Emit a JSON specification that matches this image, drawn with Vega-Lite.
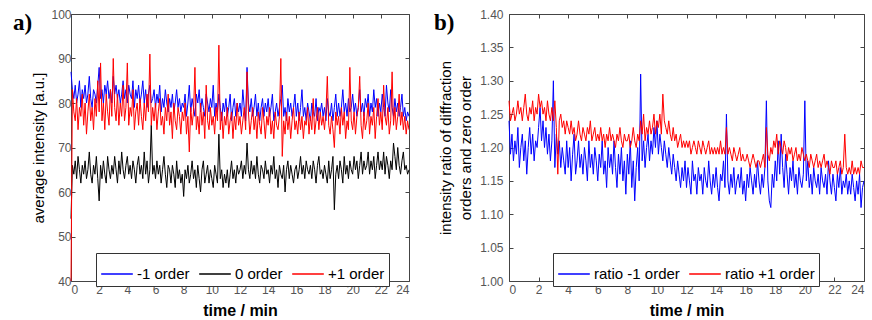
{
"$schema": "https://vega.github.io/schema/vega-lite/v6.json",
"background": "white",
"padding": {"left": 12, "top": 7, "right": 5, "bottom": 2},
"spacing": 100,
"bounds": "flush",
"config": {
  "font": "Liberation Sans",
  "view": {"stroke": "#444", "strokeWidth": 1},
  "axis": {"grid": false, "domain": false, "tickColor": "#444", "tickSize": -4, "labelColor": "#555", "labelFontSize": 12, "labelFont": "Liberation Sans", "titleFont": "Liberation Sans", "titleColor": "#000", "titleFontWeight": "normal", "titleFontSize": 15},
  "legend": {"orient": "none", "direction": "horizontal", "title": null, "strokeColor": "#333", "fillColor": "white", "padding": 4, "labelFontSize": 15, "labelColor": "#000", "labelFont": "Liberation Sans", "symbolType": "stroke", "symbolSize": 1000, "symbolStrokeWidth": 1.5, "columnPadding": 6, "labelOffset": 3, "cornerRadius": 0}
},
"datasets": {
"L": [
{"t":0,"m":87,"z":54,"p":40},{"t":0.1,"m":83,"z":66,"p":83},{"t":0.2,"m":81,"z":64,"p":78},{"t":0.3,"m":84,"z":67,"p":76},{"t":0.4,"m":80,"z":63,"p":81},{"t":0.5,"m":82,"z":68,"p":74},{"t":0.6,"m":85,"z":65,"p":79},{"t":0.7,"m":79,"z":62,"p":77},{"t":0.8,"m":83,"z":66,"p":82},{"t":0.9,"m":81,"z":64,"p":75},
{"t":1,"m":84,"z":67,"p":80},{"t":1.1,"m":80,"z":63,"p":73},{"t":1.2,"m":82,"z":65,"p":78},{"t":1.3,"m":86,"z":69,"p":82},{"t":1.4,"m":81,"z":64,"p":76},{"t":1.5,"m":79,"z":62,"p":79},{"t":1.6,"m":83,"z":66,"p":74},{"t":1.7,"m":82,"z":64,"p":81},{"t":1.8,"m":80,"z":68,"p":77},{"t":1.9,"m":84,"z":63,"p":85},
{"t":2,"m":88,"z":58,"p":78},{"t":2.1,"m":81,"z":66,"p":89},{"t":2.2,"m":83,"z":63,"p":76},{"t":2.3,"m":80,"z":67,"p":80},{"t":2.4,"m":84,"z":64,"p":74},{"t":2.5,"m":82,"z":62,"p":82},{"t":2.6,"m":85,"z":68,"p":78},{"t":2.7,"m":81,"z":65,"p":75},{"t":2.8,"m":83,"z":63,"p":83},{"t":2.9,"m":80,"z":66,"p":77},
{"t":3,"m":86,"z":64,"p":90},{"t":3.1,"m":82,"z":68,"p":79},{"t":3.2,"m":84,"z":65,"p":76},{"t":3.3,"m":81,"z":62,"p":82},{"t":3.4,"m":83,"z":67,"p":75},{"t":3.5,"m":80,"z":64,"p":80},{"t":3.6,"m":82,"z":69,"p":77},{"t":3.7,"m":85,"z":65,"p":84},{"t":3.8,"m":81,"z":63,"p":76},{"t":3.9,"m":83,"z":66,"p":79},
{"t":4,"m":80,"z":68,"p":89},{"t":4.1,"m":84,"z":64,"p":75},{"t":4.2,"m":82,"z":66,"p":79},{"t":4.3,"m":81,"z":63,"p":77},{"t":4.4,"m":85,"z":67,"p":83},{"t":4.5,"m":79,"z":65,"p":74},{"t":4.6,"m":83,"z":62,"p":78},{"t":4.7,"m":81,"z":66,"p":80},{"t":4.8,"m":84,"z":68,"p":75},{"t":4.9,"m":80,"z":64,"p":81},
{"t":5,"m":82,"z":66,"p":77},{"t":5.1,"m":85,"z":63,"p":74},{"t":5.2,"m":80,"z":69,"p":80},{"t":5.3,"m":83,"z":64,"p":76},{"t":5.4,"m":79,"z":67,"p":82},{"t":5.5,"m":82,"z":62,"p":78},{"t":5.6,"m":84,"z":65,"p":91},{"t":5.7,"m":80,"z":75,"p":75},{"t":5.8,"m":81,"z":64,"p":79},{"t":5.9,"m":83,"z":66,"p":76},
{"t":6,"m":79,"z":63,"p":80},{"t":6.1,"m":82,"z":67,"p":74},{"t":6.2,"m":80,"z":64,"p":78},{"t":6.3,"m":84,"z":66,"p":81},{"t":6.4,"m":78,"z":62,"p":75},{"t":6.5,"m":81,"z":65,"p":77},{"t":6.6,"m":79,"z":68,"p":73},{"t":6.7,"m":83,"z":64,"p":79},{"t":6.8,"m":80,"z":61,"p":76},{"t":6.9,"m":78,"z":66,"p":82},
{"t":7,"m":81,"z":65,"p":75},{"t":7.1,"m":79,"z":62,"p":78},{"t":7.2,"m":82,"z":66,"p":72},{"t":7.3,"m":78,"z":64,"p":80},{"t":7.4,"m":80,"z":61,"p":76},{"t":7.5,"m":83,"z":67,"p":74},{"t":7.6,"m":79,"z":63,"p":79},{"t":7.7,"m":81,"z":65,"p":77},{"t":7.8,"m":78,"z":62,"p":73},{"t":7.9,"m":80,"z":64,"p":78},
{"t":8,"m":79,"z":59,"p":76},{"t":8.1,"m":82,"z":65,"p":80},{"t":8.2,"m":77,"z":63,"p":73},{"t":8.3,"m":80,"z":66,"p":77},{"t":8.4,"m":84,"z":62,"p":69},{"t":8.5,"m":78,"z":64,"p":79},{"t":8.6,"m":81,"z":67,"p":75},{"t":8.7,"m":79,"z":63,"p":78},{"t":8.8,"m":77,"z":65,"p":88},{"t":8.9,"m":82,"z":61,"p":74},
{"t":9,"m":80,"z":66,"p":77},{"t":9.1,"m":83,"z":63,"p":73},{"t":9.2,"m":78,"z":60,"p":80},{"t":9.3,"m":81,"z":65,"p":75},{"t":9.4,"m":79,"z":67,"p":78},{"t":9.5,"m":77,"z":62,"p":72},{"t":9.6,"m":82,"z":64,"p":84},{"t":9.7,"m":80,"z":66,"p":76},{"t":9.8,"m":78,"z":62,"p":74},{"t":9.9,"m":81,"z":65,"p":79},
{"t":10,"m":79,"z":63,"p":75},{"t":10.1,"m":84,"z":61,"p":77},{"t":10.2,"m":77,"z":66,"p":73},{"t":10.3,"m":80,"z":64,"p":79},{"t":10.4,"m":78,"z":62,"p":76},{"t":10.5,"m":82,"z":73,"p":93},{"t":10.6,"m":79,"z":63,"p":74},{"t":10.7,"m":76,"z":65,"p":78},{"t":10.8,"m":80,"z":61,"p":72},{"t":10.9,"m":78,"z":64,"p":77},
{"t":11,"m":81,"z":62,"p":75},{"t":11.1,"m":77,"z":65,"p":79},{"t":11.2,"m":79,"z":61,"p":73},{"t":11.3,"m":82,"z":64,"p":76},{"t":11.4,"m":76,"z":67,"p":78},{"t":11.5,"m":79,"z":63,"p":72},{"t":11.6,"m":81,"z":65,"p":77},{"t":11.7,"m":77,"z":62,"p":74},{"t":11.8,"m":80,"z":66,"p":80},{"t":11.9,"m":78,"z":64,"p":75},
{"t":12,"m":80,"z":65,"p":77},{"t":12.1,"m":77,"z":67,"p":73},{"t":12.2,"m":83,"z":63,"p":76},{"t":12.3,"m":79,"z":66,"p":79},{"t":12.4,"m":76,"z":64,"p":74},{"t":12.5,"m":88,"z":71,"p":87},{"t":12.6,"m":80,"z":65,"p":78},{"t":12.7,"m":78,"z":63,"p":73},{"t":12.8,"m":81,"z":67,"p":76},{"t":12.9,"m":77,"z":64,"p":79},
{"t":13,"m":79,"z":66,"p":74},{"t":13.1,"m":82,"z":63,"p":77},{"t":13.2,"m":77,"z":68,"p":72},{"t":13.3,"m":80,"z":64,"p":78},{"t":13.4,"m":76,"z":62,"p":75},{"t":13.5,"m":79,"z":66,"p":73},{"t":13.6,"m":81,"z":65,"p":79},{"t":13.7,"m":77,"z":63,"p":76},{"t":13.8,"m":80,"z":67,"p":72},{"t":13.9,"m":78,"z":64,"p":77},
{"t":14,"m":81,"z":65,"p":75},{"t":14.1,"m":77,"z":62,"p":79},{"t":14.2,"m":79,"z":66,"p":73},{"t":14.3,"m":82,"z":64,"p":76},{"t":14.4,"m":76,"z":68,"p":72},{"t":14.5,"m":78,"z":63,"p":78},{"t":14.6,"m":80,"z":65,"p":75},{"t":14.7,"m":77,"z":61,"p":74},{"t":14.8,"m":79,"z":66,"p":77},{"t":14.9,"m":81,"z":64,"p":90},
{"t":15,"m":84,"z":63,"p":68},{"t":15.1,"m":77,"z":66,"p":76},{"t":15.2,"m":79,"z":60,"p":73},{"t":15.3,"m":76,"z":65,"p":78},{"t":15.4,"m":81,"z":67,"p":74},{"t":15.5,"m":78,"z":63,"p":77},{"t":15.6,"m":80,"z":66,"p":72},{"t":15.7,"m":77,"z":64,"p":76},{"t":15.8,"m":79,"z":62,"p":79},{"t":15.9,"m":82,"z":65,"p":74},
{"t":16,"m":77,"z":66,"p":76},{"t":16.1,"m":80,"z":63,"p":73},{"t":16.2,"m":76,"z":65,"p":78},{"t":16.3,"m":79,"z":68,"p":74},{"t":16.4,"m":83,"z":64,"p":77},{"t":16.5,"m":77,"z":66,"p":72},{"t":16.6,"m":79,"z":63,"p":76},{"t":16.7,"m":76,"z":67,"p":75},{"t":16.8,"m":80,"z":65,"p":79},{"t":16.9,"m":78,"z":64,"p":73},
{"t":17,"m":76,"z":66,"p":77},{"t":17.1,"m":80,"z":63,"p":74},{"t":17.2,"m":78,"z":67,"p":81},{"t":17.3,"m":77,"z":65,"p":73},{"t":17.4,"m":81,"z":62,"p":76},{"t":17.5,"m":76,"z":66,"p":79},{"t":17.6,"m":79,"z":68,"p":74},{"t":17.7,"m":78,"z":64,"p":78},{"t":17.8,"m":80,"z":65,"p":75},{"t":17.9,"m":77,"z":63,"p":77},
{"t":18,"m":79,"z":66,"p":74},{"t":18.1,"m":76,"z":64,"p":78},{"t":18.2,"m":81,"z":62,"p":86},{"t":18.3,"m":78,"z":67,"p":75},{"t":18.4,"m":77,"z":63,"p":73},{"t":18.5,"m":80,"z":65,"p":77},{"t":18.6,"m":76,"z":68,"p":74},{"t":18.7,"m":79,"z":56,"p":70},{"t":18.8,"m":82,"z":64,"p":78},{"t":18.9,"m":77,"z":66,"p":75},
{"t":19,"m":80,"z":63,"p":77},{"t":19.1,"m":77,"z":67,"p":73},{"t":19.2,"m":79,"z":65,"p":79},{"t":19.3,"m":83,"z":62,"p":75},{"t":19.4,"m":78,"z":68,"p":78},{"t":19.5,"m":80,"z":64,"p":72},{"t":19.6,"m":77,"z":66,"p":76},{"t":19.7,"m":81,"z":63,"p":74},{"t":19.8,"m":78,"z":67,"p":88},{"t":19.9,"m":79,"z":65,"p":76},
{"t":20,"m":82,"z":64,"p":74},{"t":20.1,"m":78,"z":68,"p":78},{"t":20.2,"m":80,"z":65,"p":73},{"t":20.3,"m":77,"z":67,"p":77},{"t":20.4,"m":79,"z":63,"p":79},{"t":20.5,"m":83,"z":66,"p":86},{"t":20.6,"m":78,"z":69,"p":75},{"t":20.7,"m":80,"z":64,"p":72},{"t":20.8,"m":77,"z":67,"p":78},{"t":20.9,"m":81,"z":65,"p":74},
{"t":21,"m":79,"z":66,"p":76},{"t":21.1,"m":82,"z":69,"p":80},{"t":21.2,"m":77,"z":64,"p":73},{"t":21.3,"m":80,"z":67,"p":77},{"t":21.4,"m":78,"z":65,"p":75},{"t":21.5,"m":83,"z":68,"p":79},{"t":21.6,"m":79,"z":63,"p":72},{"t":21.7,"m":81,"z":66,"p":77},{"t":21.8,"m":77,"z":69,"p":81},{"t":21.9,"m":80,"z":65,"p":75},
{"t":22,"m":78,"z":67,"p":78},{"t":22.1,"m":82,"z":65,"p":74},{"t":22.2,"m":79,"z":69,"p":84},{"t":22.3,"m":77,"z":64,"p":77},{"t":22.4,"m":84,"z":68,"p":75},{"t":22.5,"m":80,"z":66,"p":79},{"t":22.6,"m":78,"z":63,"p":73},{"t":22.7,"m":83,"z":67,"p":76},{"t":22.8,"m":79,"z":65,"p":87},{"t":22.9,"m":77,"z":71,"p":75},
{"t":23,"m":81,"z":68,"p":79},{"t":23.1,"m":78,"z":65,"p":74},{"t":23.2,"m":80,"z":70,"p":77},{"t":23.3,"m":77,"z":66,"p":82},{"t":23.4,"m":79,"z":64,"p":75},{"t":23.5,"m":82,"z":67,"p":78},{"t":23.6,"m":77,"z":69,"p":74},{"t":23.7,"m":79,"z":65,"p":77},{"t":23.8,"m":76,"z":66,"p":73},{"t":23.9,"m":78,"z":64,"p":76},
{"t":24,"m":77,"z":65,"p":74}
],
"R": [
{"t":0,"m":1.24,"p":1.27},{"t":0.1,"m":1.19,"p":1.24},{"t":0.2,"m":1.22,"p":1.25},{"t":0.3,"m":1.18,"p":1.26},{"t":0.4,"m":1.21,"p":1.24},{"t":0.5,"m":1.19,"p":1.25},{"t":0.6,"m":1.23,"p":1.27},{"t":0.7,"m":1.17,"p":1.25},{"t":0.8,"m":1.20,"p":1.26},{"t":0.9,"m":1.22,"p":1.24},
{"t":1,"m":1.18,"p":1.26},{"t":1.1,"m":1.21,"p":1.28},{"t":1.2,"m":1.16,"p":1.25},{"t":1.3,"m":1.20,"p":1.24},{"t":1.4,"m":1.23,"p":1.26},{"t":1.5,"m":1.19,"p":1.25},{"t":1.6,"m":1.22,"p":1.27},{"t":1.7,"m":1.18,"p":1.24},{"t":1.8,"m":1.21,"p":1.26},{"t":1.9,"m":1.20,"p":1.25},
{"t":2,"m":1.23,"p":1.28},{"t":2.1,"m":1.26,"p":1.26},{"t":2.2,"m":1.21,"p":1.27},{"t":2.3,"m":1.24,"p":1.25},{"t":2.4,"m":1.20,"p":1.26},{"t":2.5,"m":1.23,"p":1.24},{"t":2.6,"m":1.19,"p":1.27},{"t":2.7,"m":1.22,"p":1.25},{"t":2.8,"m":1.18,"p":1.24},{"t":2.9,"m":1.21,"p":1.26},
{"t":3,"m":1.30,"p":1.24},{"t":3.1,"m":1.17,"p":1.27},{"t":3.2,"m":1.22,"p":1.23},{"t":3.3,"m":1.19,"p":1.16},{"t":3.4,"m":1.21,"p":1.24},{"t":3.5,"m":1.17,"p":1.25},{"t":3.6,"m":1.20,"p":1.23},{"t":3.7,"m":1.18,"p":1.24},{"t":3.8,"m":1.16,"p":1.22},{"t":3.9,"m":1.21,"p":1.24},
{"t":4,"m":1.17,"p":1.23},{"t":4.1,"m":1.20,"p":1.22},{"t":4.2,"m":1.15,"p":1.24},{"t":4.3,"m":1.19,"p":1.22},{"t":4.4,"m":1.22,"p":1.23},{"t":4.5,"m":1.16,"p":1.21},{"t":4.6,"m":1.18,"p":1.22},{"t":4.7,"m":1.21,"p":1.24},{"t":4.8,"m":1.17,"p":1.22},{"t":4.9,"m":1.19,"p":1.21},
{"t":5,"m":1.16,"p":1.23},{"t":5.1,"m":1.20,"p":1.22},{"t":5.2,"m":1.18,"p":1.21},{"t":5.3,"m":1.15,"p":1.23},{"t":5.4,"m":1.21,"p":1.22},{"t":5.5,"m":1.17,"p":1.24},{"t":5.6,"m":1.19,"p":1.21},{"t":5.7,"m":1.16,"p":1.22},{"t":5.8,"m":1.20,"p":1.23},{"t":5.9,"m":1.18,"p":1.21},
{"t":6,"m":1.15,"p":1.22},{"t":6.1,"m":1.19,"p":1.21},{"t":6.2,"m":1.17,"p":1.23},{"t":6.3,"m":1.21,"p":1.21},{"t":6.4,"m":1.16,"p":1.22},{"t":6.5,"m":1.18,"p":1.20},{"t":6.6,"m":1.14,"p":1.22},{"t":6.7,"m":1.20,"p":1.21},{"t":6.8,"m":1.17,"p":1.23},{"t":6.9,"m":1.19,"p":1.21},
{"t":7,"m":1.16,"p":1.22},{"t":7.1,"m":1.21,"p":1.21},{"t":7.2,"m":1.17,"p":1.20},{"t":7.3,"m":1.14,"p":1.22},{"t":7.4,"m":1.19,"p":1.21},{"t":7.5,"m":1.16,"p":1.23},{"t":7.6,"m":1.20,"p":1.21},{"t":7.7,"m":1.15,"p":1.20},{"t":7.8,"m":1.18,"p":1.22},{"t":7.9,"m":1.13,"p":1.21},
{"t":8,"m":1.19,"p":1.21},{"t":8.1,"m":1.16,"p":1.22},{"t":8.2,"m":1.21,"p":1.20},{"t":8.3,"m":1.14,"p":1.21},{"t":8.4,"m":1.18,"p":1.23},{"t":8.5,"m":1.12,"p":1.21},{"t":8.6,"m":1.17,"p":1.20},{"t":8.7,"m":1.20,"p":1.22},{"t":8.8,"m":1.15,"p":1.21},{"t":8.9,"m":1.31,"p":1.24},
{"t":9,"m":1.18,"p":1.22},{"t":9.1,"m":1.21,"p":1.25},{"t":9.2,"m":1.17,"p":1.21},{"t":9.3,"m":1.20,"p":1.23},{"t":9.4,"m":1.22,"p":1.22},{"t":9.5,"m":1.18,"p":1.24},{"t":9.6,"m":1.21,"p":1.22},{"t":9.7,"m":1.19,"p":1.23},{"t":9.8,"m":1.23,"p":1.25},{"t":9.9,"m":1.20,"p":1.22},
{"t":10,"m":1.24,"p":1.24},{"t":10.1,"m":1.19,"p":1.23},{"t":10.2,"m":1.22,"p":1.25},{"t":10.3,"m":1.20,"p":1.22},{"t":10.4,"m":1.18,"p":1.28},{"t":10.5,"m":1.21,"p":1.24},{"t":10.6,"m":1.19,"p":1.23},{"t":10.7,"m":1.17,"p":1.22},{"t":10.8,"m":1.20,"p":1.24},{"t":10.9,"m":1.18,"p":1.22},
{"t":11,"m":1.16,"p":1.21},{"t":11.1,"m":1.19,"p":1.23},{"t":11.2,"m":1.17,"p":1.21},{"t":11.3,"m":1.15,"p":1.22},{"t":11.4,"m":1.18,"p":1.20},{"t":11.5,"m":1.16,"p":1.21},{"t":11.6,"m":1.14,"p":1.22},{"t":11.7,"m":1.17,"p":1.20},{"t":11.8,"m":1.15,"p":1.21},{"t":11.9,"m":1.18,"p":1.20},
{"t":12,"m":1.14,"p":1.21},{"t":12.1,"m":1.17,"p":1.20},{"t":12.2,"m":1.15,"p":1.21},{"t":12.3,"m":1.13,"p":1.19},{"t":12.4,"m":1.18,"p":1.20},{"t":12.5,"m":1.15,"p":1.21},{"t":12.6,"m":1.16,"p":1.20},{"t":12.7,"m":1.13,"p":1.19},{"t":12.8,"m":1.17,"p":1.21},{"t":12.9,"m":1.15,"p":1.20},
{"t":13,"m":1.16,"p":1.19},{"t":13.1,"m":1.13,"p":1.21},{"t":13.2,"m":1.17,"p":1.20},{"t":13.3,"m":1.15,"p":1.19},{"t":13.4,"m":1.14,"p":1.20},{"t":13.5,"m":1.18,"p":1.21},{"t":13.6,"m":1.15,"p":1.19},{"t":13.7,"m":1.13,"p":1.20},{"t":13.8,"m":1.16,"p":1.19},{"t":13.9,"m":1.14,"p":1.20},
{"t":14,"m":1.17,"p":1.19},{"t":14.1,"m":1.14,"p":1.20},{"t":14.2,"m":1.12,"p":1.19},{"t":14.3,"m":1.16,"p":1.21},{"t":14.4,"m":1.15,"p":1.19},{"t":14.5,"m":1.18,"p":1.20},{"t":14.6,"m":1.14,"p":1.19},{"t":14.7,"m":1.25,"p":1.23},{"t":14.8,"m":1.15,"p":1.19},{"t":14.9,"m":1.13,"p":1.20},
{"t":15,"m":1.16,"p":1.19},{"t":15.1,"m":1.14,"p":1.18},{"t":15.2,"m":1.17,"p":1.20},{"t":15.3,"m":1.13,"p":1.19},{"t":15.4,"m":1.15,"p":1.18},{"t":15.5,"m":1.16,"p":1.19},{"t":15.6,"m":1.14,"p":1.20},{"t":15.7,"m":1.17,"p":1.18},{"t":15.8,"m":1.13,"p":1.19},{"t":15.9,"m":1.15,"p":1.18},
{"t":16,"m":1.12,"p":1.18},{"t":16.1,"m":1.16,"p":1.19},{"t":16.2,"m":1.14,"p":1.18},{"t":16.3,"m":1.17,"p":1.17},{"t":16.4,"m":1.15,"p":1.18},{"t":16.5,"m":1.13,"p":1.19},{"t":16.6,"m":1.16,"p":1.18},{"t":16.7,"m":1.14,"p":1.17},{"t":16.8,"m":1.18,"p":1.18},{"t":16.9,"m":1.15,"p":1.18},
{"t":17,"m":1.13,"p":1.17},{"t":17.1,"m":1.16,"p":1.18},{"t":17.2,"m":1.14,"p":1.19},{"t":17.3,"m":1.17,"p":1.17},{"t":17.4,"m":1.27,"p":1.23},{"t":17.5,"m":1.15,"p":1.19},{"t":17.6,"m":1.12,"p":1.18},{"t":17.7,"m":1.11,"p":1.20},{"t":17.8,"m":1.16,"p":1.19},{"t":17.9,"m":1.14,"p":1.21},
{"t":18,"m":1.18,"p":1.20},{"t":18.1,"m":1.15,"p":1.22},{"t":18.2,"m":1.21,"p":1.19},{"t":18.3,"m":1.16,"p":1.21},{"t":18.4,"m":1.22,"p":1.20},{"t":18.5,"m":1.17,"p":1.19},{"t":18.6,"m":1.14,"p":1.21},{"t":18.7,"m":1.19,"p":1.20},{"t":18.8,"m":1.16,"p":1.18},{"t":18.9,"m":1.13,"p":1.20},
{"t":19,"m":1.17,"p":1.19},{"t":19.1,"m":1.15,"p":1.20},{"t":19.2,"m":1.18,"p":1.18},{"t":19.3,"m":1.14,"p":1.19},{"t":19.4,"m":1.16,"p":1.20},{"t":19.5,"m":1.13,"p":1.18},{"t":19.6,"m":1.17,"p":1.19},{"t":19.7,"m":1.15,"p":1.18},{"t":19.8,"m":1.14,"p":1.20},{"t":19.9,"m":1.16,"p":1.19},
{"t":20,"m":1.27,"p":1.18},{"t":20.1,"m":1.15,"p":1.19},{"t":20.2,"m":1.18,"p":1.18},{"t":20.3,"m":1.14,"p":1.17},{"t":20.4,"m":1.16,"p":1.19},{"t":20.5,"m":1.13,"p":1.18},{"t":20.6,"m":1.17,"p":1.17},{"t":20.7,"m":1.15,"p":1.18},{"t":20.8,"m":1.14,"p":1.19},{"t":20.9,"m":1.16,"p":1.17},
{"t":21,"m":1.13,"p":1.18},{"t":21.1,"m":1.17,"p":1.17},{"t":21.2,"m":1.15,"p":1.18},{"t":21.3,"m":1.14,"p":1.19},{"t":21.4,"m":1.16,"p":1.17},{"t":21.5,"m":1.13,"p":1.18},{"t":21.6,"m":1.18,"p":1.17},{"t":21.7,"m":1.15,"p":1.16},{"t":21.8,"m":1.13,"p":1.18},{"t":21.9,"m":1.16,"p":1.17},
{"t":22,"m":1.14,"p":1.17},{"t":22.1,"m":1.12,"p":1.18},{"t":22.2,"m":1.16,"p":1.16},{"t":22.3,"m":1.14,"p":1.17},{"t":22.4,"m":1.17,"p":1.18},{"t":22.5,"m":1.13,"p":1.16},{"t":22.6,"m":1.15,"p":1.17},{"t":22.7,"m":1.14,"p":1.22},{"t":22.8,"m":1.16,"p":1.17},{"t":22.9,"m":1.13,"p":1.16},
{"t":23,"m":1.15,"p":1.17},{"t":23.1,"m":1.13,"p":1.16},{"t":23.2,"m":1.16,"p":1.18},{"t":23.3,"m":1.14,"p":1.16},{"t":23.4,"m":1.12,"p":1.17},{"t":23.5,"m":1.15,"p":1.16},{"t":23.6,"m":1.13,"p":1.17},{"t":23.7,"m":1.16,"p":1.16},{"t":23.8,"m":1.11,"p":1.18},{"t":23.9,"m":1.14,"p":1.17},
{"t":24,"m":1.15,"p":1.17}
]
},
"resolve": {"scale": {"color": "independent"}, "legend": {"color": "independent"}},
"hconcat": [
{
  "width": 338, "height": 267,
  "title": {"text": "a)", "font": "Liberation Serif", "fontSize": 23, "fontWeight": "bold", "color": "#000", "anchor": "start", "frame": "group", "dx": -58, "dy": 16, "offset": -29, "baseline": "alphabetic"},
  "data": {"name": "L"},
  "resolve": {"axis": {"x": "independent", "y": "independent"}},
  "layer": [
    {
      "transform": [{"fold": ["m", "z", "p"], "as": ["s", "v"]}],
      "encoding": {
        "x": {"field": "t", "type": "quantitative", "scale": {"domain": [0, 24], "nice": false}, "axis": {"orient": "bottom", "values": [0,2,4,6,8,10,12,14,16,18,20,22,24], "title": "time / min", "titleFontWeight": "bold", "titleFontSize": 16, "labelPadding": 7, "titlePadding": 7}},
        "y": {"field": "v", "type": "quantitative", "scale": {"domain": [40, 100], "nice": false}, "axis": {"orient": "left", "values": [40,50,60,70,80,90,100], "title": "average intensity [a.u.]", "labelPadding": 4, "titlePadding": 4}},
        "color": {"field": "s", "type": "nominal", "scale": {"domain": ["m", "z", "p"], "range": ["#0000ff", "#000000", "#ff0000"]}, "legend": {"legendX": 25, "legendY": 239, "labelExpr": "datum.value == 'm' ? '-1 order' : datum.value == 'z' ? '0 order' : '+1 order'"}}
      },
      "layer": [
        {"transform": [{"filter": "datum.s == 'm'"}], "mark": {"type": "line", "strokeWidth": 1}},
        {"transform": [{"filter": "datum.s == 'z'"}], "mark": {"type": "line", "strokeWidth": 1}},
        {"transform": [{"filter": "datum.s == 'p'"}], "mark": {"type": "line", "strokeWidth": 1}}
      ]
    },
    {
      "mark": {"type": "line", "opacity": 0},
      "encoding": {
        "x": {"field": "t", "type": "quantitative", "axis": {"orient": "top", "labels": false, "title": null, "minExtent": 0, "maxExtent": 0, "values": [0,2,4,6,8,10,12,14,16,18,20,22,24]}},
        "y": {"field": "m", "type": "quantitative", "axis": {"orient": "right", "labels": false, "title": null, "minExtent": 0, "maxExtent": 0, "values": [40,50,60,70,80,90,100]}}
      }
    }
  ]
},
{
  "width": 355, "height": 267,
  "title": {"text": "b)", "font": "Liberation Serif", "fontSize": 23, "fontWeight": "bold", "color": "#000", "anchor": "start", "frame": "group", "dx": -75, "dy": 16, "offset": -29, "baseline": "alphabetic"},
  "data": {"name": "R"},
  "resolve": {"axis": {"x": "independent", "y": "independent"}},
  "layer": [
    {
      "transform": [{"fold": ["m", "p"], "as": ["s", "v"]}],
      "encoding": {
        "x": {"field": "t", "type": "quantitative", "scale": {"domain": [0, 24], "nice": false}, "axis": {"orient": "bottom", "values": [0,2,4,6,8,10,12,14,16,18,20,22,24], "title": "time / min", "titleFontWeight": "bold", "titleFontSize": 16, "labelPadding": 7, "titlePadding": 7}},
        "y": {"field": "v", "type": "quantitative", "scale": {"domain": [1.0, 1.4], "nice": false}, "axis": {"orient": "left", "values": [1.0,1.05,1.1,1.15,1.2,1.25,1.3,1.35,1.4], "format": ".2f", "title": ["intensity ratio of diffraction", "orders and zero order"], "titleLineHeight": 20, "labelPadding": 10, "titlePadding": 6}},
        "color": {"field": "s", "type": "nominal", "scale": {"domain": ["m", "p"], "range": ["#0000ff", "#ff0000"]}, "legend": {"legendX": 44, "legendY": 239, "labelExpr": "datum.value == 'm' ? 'ratio -1 order' : 'ratio +1 order'"}}
      },
      "layer": [
        {"transform": [{"filter": "datum.s == 'm'"}], "mark": {"type": "line", "strokeWidth": 1}},
        {"transform": [{"filter": "datum.s == 'p'"}], "mark": {"type": "line", "strokeWidth": 1}}
      ]
    },
    {
      "mark": {"type": "line", "opacity": 0},
      "encoding": {
        "x": {"field": "t", "type": "quantitative", "axis": {"orient": "top", "labels": false, "title": null, "minExtent": 0, "maxExtent": 0, "values": [0,2,4,6,8,10,12,14,16,18,20,22,24]}},
        "y": {"field": "m", "type": "quantitative", "axis": {"orient": "right", "labels": false, "title": null, "minExtent": 0, "maxExtent": 0, "values": [1.0,1.05,1.1,1.15,1.2,1.25,1.3,1.35,1.4]}}
      }
    }
  ]
}
]
}
